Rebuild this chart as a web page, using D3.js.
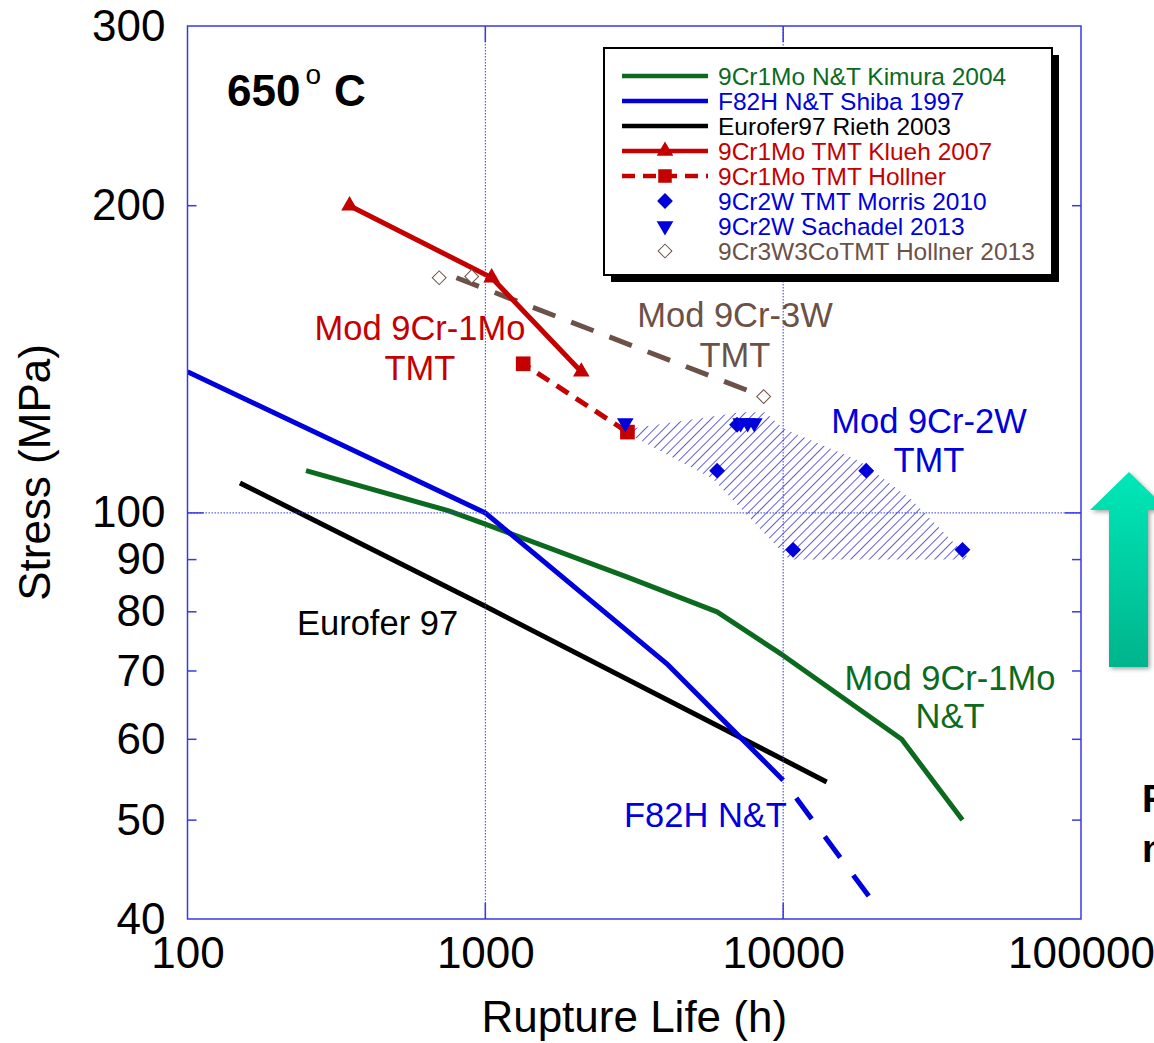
<!DOCTYPE html>
<html><head><meta charset="utf-8">
<script src="https://cdn.jsdelivr.net/npm/d3@7"></script>
<style>
body{margin:0;background:#fff;overflow:hidden;}
svg{display:block;font-family:"Liberation Sans",Arial,sans-serif;}
</style>
</head><body>
<svg id="chart" width="1154" height="1043"></svg>
<script>
// ---------- data (rupture life in h, stress in MPa) ----------
const xTickValues = [100, 1000, 10000, 100000];
const yTickValues = [40, 50, 60, 70, 80, 90, 100, 200, 300];
const yMajorTicks = [100];

const kimuraLife   = [250, 750, 1000, 3000, 6000, 10000, 25000, 40000];
const kimuraStress = [110, 100.5, 97.5, 86.5, 80, 72.5, 60, 50];

const shibaLife   = [100, 1000, 4100, 10000];
const shibaStress = [137.5, 100, 71, 54.7];
const shibaExtrapLife   = [10000, 20000];
const shibaExtrapStress = [54.7, 41.6];

const riethLife   = [150, 1000, 14000];
const riethStress = [107, 81, 54.5];

const kluehLife   = [350, 1050, 2100];
const kluehStress = [200, 170, 137.5];

const hollnerMoLife   = [1340, 3000];
const hollnerMoStress = [140, 120];

const morrisLife   = [6000, 19000, 10800, 40000, 7000];
const morrisStress = [110, 110, 92, 92, 122];

const sachadelLife   = [2950, 7200, 7600, 8000];
const sachadelStress = [122.5, 122.5, 122.5, 122.5];

const hollnerWLife   = [700, 900, 8600];
const hollnerWStress = [170, 170.5, 130];
const hollnerWFitLife   = [800, 8600];
const hollnerWFitStress = [170, 130];

const bandLife   = [3100, 7200, 8700, 10000, 18000, 27000, 42500, 10500, 5800, 3100];
const bandStress = [121, 125.5, 125.5, 121, 112.5, 103, 90, 90, 108, 119];

const legendLabels = [
  "9Cr1Mo N&T Kimura 2004",
  "F82H N&T Shiba 1997",
  "Eurofer97 Rieth 2003",
  "9Cr1Mo TMT Klueh 2007",
  "9Cr1Mo TMT Hollner",
  "9Cr2W TMT Morris 2010",
  "9Cr2W Sachadel 2013",
  "9Cr3W3CoTMT Hollner 2013"
];

// ---------- drawing ----------
const zip = (a, b) => a.map((v, i) => [v, b[i]]);
const C = {green:"#0c6a1f", blue:"#0000dc", black:"#000000", red:"#c40000", brown:"#6b5147", axis:"#3838e6"};

const svg = d3.select("#chart");
const L = 187.5, R = 1081, T = 26, B = 919;
const x = d3.scaleLog().domain([100, 100000]).range([L, R]);
const y = d3.scaleLog().domain([40, 300]).range([B, T]);

const defs = svg.append("defs");
defs.append("clipPath").attr("id", "plotClip")
  .append("rect").attr("x", L).attr("y", T).attr("width", R - L).attr("height", B - T);
const pat = defs.append("pattern").attr("id", "hatch")
  .attr("patternUnits", "userSpaceOnUse").attr("width", 6.6).attr("height", 6.6)
  .attr("patternTransform", "rotate(45)");
pat.append("line").attr("x1", 0).attr("y1", 0).attr("x2", 0).attr("y2", 6.6)
  .attr("stroke", "#3a3ae0").attr("stroke-width", 1.6);
const grad = defs.append("linearGradient").attr("id", "arrowGrad")
  .attr("x1", 0).attr("y1", 0).attr("x2", 0).attr("y2", 1);
grad.append("stop").attr("offset", "0%").attr("stop-color", "#00e8b8");
grad.append("stop").attr("offset", "100%").attr("stop-color", "#00b48c");
const shadow = defs.append("filter").attr("id", "shadow").attr("x", "-20%").attr("y", "-20%").attr("width", "150%").attr("height", "150%");
shadow.append("feDropShadow").attr("dx", 2).attr("dy", 2).attr("stdDeviation", 2).attr("flood-color", "#000").attr("flood-opacity", 0.35);

const plot = svg.append("g").attr("clip-path", "url(#plotClip)");
const line = d3.line().x(d => x(d[0])).y(d => y(d[1]));

// hatched band
plot.append("path").datum(zip(bandLife, bandStress))
  .attr("d", d3.line().x(d => x(d[0])).y(d => y(d[1])).curve(d3.curveLinearClosed))
  .attr("fill", "url(#hatch)").attr("stroke", "none");

// grid lines (dotted)
const grid = svg.append("g");
grid.selectAll("line.gx").data([1000, 10000]).join("line")
  .attr("x1", d => x(d)).attr("x2", d => x(d)).attr("y1", T).attr("y2", B)
  .attr("stroke", C.axis).attr("stroke-width", 1).attr("stroke-dasharray", "1.5 1.5");
grid.selectAll("line.gy").data([100]).join("line")
  .attr("y1", d => y(d)).attr("y2", d => y(d)).attr("x1", L).attr("x2", R)
  .attr("stroke", C.axis).attr("stroke-width", 1).attr("stroke-dasharray", "1.5 1.5");

// series lines
function drawLine(data, color, w, dash, offset) {
  const p = plot.append("path").datum(data).attr("d", line)
    .attr("fill", "none").attr("stroke", color).attr("stroke-width", w)
    .attr("stroke-linejoin", "round");
  if (dash) p.attr("stroke-dasharray", dash).attr("stroke-dashoffset", offset || 0);
  return p;
}
drawLine(zip(kimuraLife, kimuraStress), C.green, 5);
drawLine(zip(riethLife, riethStress), C.black, 5);
drawLine(zip(shibaLife, shibaStress), C.blue, 5);
drawLine(zip(shibaExtrapLife, shibaExtrapStress), C.blue, 5, "26 22", 26);
drawLine(zip(hollnerWFitLife, hollnerWFitStress), C.brown, 5, "24 17");
drawLine(zip(kluehLife, kluehStress), C.red, 5);
drawLine(zip(hollnerMoLife, hollnerMoStress), C.red, 5, "14 9", 6);

// markers
const sym = {
  triUp:   {type: d3.symbolTriangle, size: 120, rot: 0},
  triDown: {type: d3.symbolTriangle, size: 120, rot: 180},
  square:  {type: d3.symbolSquare,   size: 215, rot: 0},
  diamond: {type: d3.symbolSquare,   size: 125, rot: 45},
  openDia: {type: d3.symbolSquare,   size: 95,  rot: 45}
};
function drawMarkers(g, data, kind, fill, stroke) {
  const s = sym[kind];
  g.selectAll(null).data(data).join("path")
    .attr("d", d3.symbol().type(s.type).size(s.size))
    .attr("transform", d => `translate(${x(d[0])},${y(d[1])}) rotate(${s.rot})`)
    .attr("fill", fill).attr("stroke", stroke || "none").attr("stroke-width", 1);
}
const mk = svg.append("g");
drawMarkers(mk, zip(hollnerWLife, hollnerWStress), "openDia", "#fff", C.brown);
drawMarkers(mk, zip(kluehLife, kluehStress), "triUp", C.red);
drawMarkers(mk, zip(hollnerMoLife, hollnerMoStress), "square", C.red);
drawMarkers(mk, zip(morrisLife, morrisStress), "diamond", C.blue);
drawMarkers(mk, zip(sachadelLife, sachadelStress), "triDown", C.blue);

// frame
svg.append("rect").attr("x", L).attr("y", T).attr("width", R - L).attr("height", B - T)
  .attr("fill", "none").attr("stroke", C.axis).attr("stroke-width", 1.5);

// ticks (inward) on all four sides
const tk = svg.append("g").attr("stroke", C.axis).attr("stroke-width", 1.5);
const yMinor = yTickValues.filter(v => yMajorTicks.indexOf(v) < 0 && v !== 40 && v !== 300);
const xInner = xTickValues.filter(v => v !== 100 && v !== 100000);
tk.selectAll(null).data(xInner).join("line")
  .attr("x1", d => x(d)).attr("x2", d => x(d)).attr("y1", B).attr("y2", B - 16);
tk.selectAll(null).data(xInner).join("line")
  .attr("x1", d => x(d)).attr("x2", d => x(d)).attr("y1", T).attr("y2", T + 16);
tk.selectAll(null).data(yMajorTicks).join("line")
  .attr("y1", d => y(d)).attr("y2", d => y(d)).attr("x1", L).attr("x2", L + 16);
tk.selectAll(null).data(yMajorTicks).join("line")
  .attr("y1", d => y(d)).attr("y2", d => y(d)).attr("x1", R).attr("x2", R - 16);
tk.selectAll(null).data(yMinor).join("line")
  .attr("y1", d => y(d)).attr("y2", d => y(d)).attr("x1", L).attr("x2", L + 9);
tk.selectAll(null).data(yMinor).join("line")
  .attr("y1", d => y(d)).attr("y2", d => y(d)).attr("x1", R).attr("x2", R - 9);

// axis labels via d3 axes
const xAxis = svg.append("g").attr("transform", `translate(0,${B})`)
  .call(d3.axisBottom(x).tickValues(xTickValues).tickFormat(d3.format("d")).tickSize(0).tickPadding(18));
const yAxis = svg.append("g").attr("transform", `translate(${L},0)`)
  .call(d3.axisLeft(y).tickValues(yTickValues).tickFormat(d3.format("d")).tickSize(0).tickPadding(22));
[xAxis, yAxis].forEach(a => {
  a.select(".domain").remove();
  a.selectAll("text").attr("font-size", 44).attr("fill", "#000")
    .attr("font-family", "'Liberation Sans', Arial, sans-serif");
});

svg.append("text").attr("x", (L + R) / 2).attr("y", 1032).attr("text-anchor", "middle")
  .attr("font-size", 44).text("Rupture Life (h)");
svg.append("text").attr("transform", `translate(50,${(T + B) / 2}) rotate(-90)`)
  .attr("text-anchor", "middle").attr("font-size", 44).text("Stress (MPa)");

// temperature label
const tl = svg.append("text").attr("x", 227).attr("y", 106).attr("font-size", 44)
  .attr("font-weight", "bold").attr("fill", "#000");
tl.append("tspan").text("650");
tl.append("tspan").attr("dx", 5).attr("dy", -22).attr("font-size", 28).attr("font-weight", "normal").text("o");
tl.append("tspan").attr("dx", 13).attr("dy", 22).text("C");

// annotations
function note(lines, cx, ys, color, anchor) {
  lines.forEach((t, i) => {
    svg.append("text").attr("x", cx).attr("y", ys[i]).attr("text-anchor", anchor || "middle")
      .attr("font-size", 34.5).attr("fill", color).text(t);
  });
}
note(["Mod 9Cr-1Mo", "TMT"], 420, [340, 380], C.red);
note(["Mod 9Cr-3W", "TMT"], 735, [327, 367], C.brown);
note(["Mod 9Cr-2W", "TMT"], 929, [433, 472], C.blue);
note(["Eurofer 97"], 297, [635], C.black, "start");
note(["Mod 9Cr-1Mo", "N&T"], 950, [690, 728], C.green);
note(["F82H N&T"], 624, [827], C.blue, "start");

// legend
const lg = svg.append("g");
lg.append("rect").attr("x", 611).attr("y", 55).attr("width", 448).attr("height", 227).attr("fill", "#000");
lg.append("rect").attr("x", 604).attr("y", 48).attr("width", 448).attr("height", 227)
  .attr("fill", "#fff").attr("stroke", "#000").attr("stroke-width", 2);
const legendStyle = [
  {color: C.green, line: "solid"},
  {color: C.blue,  line: "solid"},
  {color: C.black, line: "solid"},
  {color: C.red,   line: "solid", marker: "triUp"},
  {color: C.red,   line: "dash",  marker: "square"},
  {color: C.blue,  marker: "diamond"},
  {color: C.blue,  marker: "triDown"},
  {color: C.brown, marker: "openDia", open: true}
];
legendLabels.forEach((lab, i) => {
  const cy = 76 + i * 25;
  const st = legendStyle[i];
  if (st.line) {
    lg.append("line").attr("x1", 622).attr("x2", 708).attr("y1", cy).attr("y2", cy)
      .attr("stroke", st.color).attr("stroke-width", 4.5)
      .attr("stroke-dasharray", st.line === "dash" ? "13 8" : null);
  }
  if (st.marker) {
    const s = sym[st.marker];
    const sc = st.marker === "square" ? 0.85 : 1;
    lg.append("path").attr("d", d3.symbol().type(s.type).size(s.size * sc))
      .attr("transform", `translate(665,${cy}) rotate(${s.rot})`)
      .attr("fill", st.open ? "#fff" : st.color)
      .attr("stroke", st.open ? st.color : "none").attr("stroke-width", 1);
  }
  lg.append("text").attr("x", 718).attr("y", cy).attr("dy", "0.36em")
    .attr("font-size", 24.5).attr("fill", st.color).text(lab);
});

// decorative arrow at right
svg.append("polygon")
  .attr("points", "1129,472 1168,510 1148,510 1148,667 1109,667 1109,510 1090,510")
  .attr("fill", "url(#arrowGrad)").attr("filter", "url(#shadow)");
svg.append("text").attr("x", 1142).attr("y", 812).attr("font-size", 38).attr("font-weight", "bold").text("R");
svg.append("text").attr("x", 1142).attr("y", 862).attr("font-size", 38).attr("font-weight", "bold").text("n");
</script>
</body></html>
